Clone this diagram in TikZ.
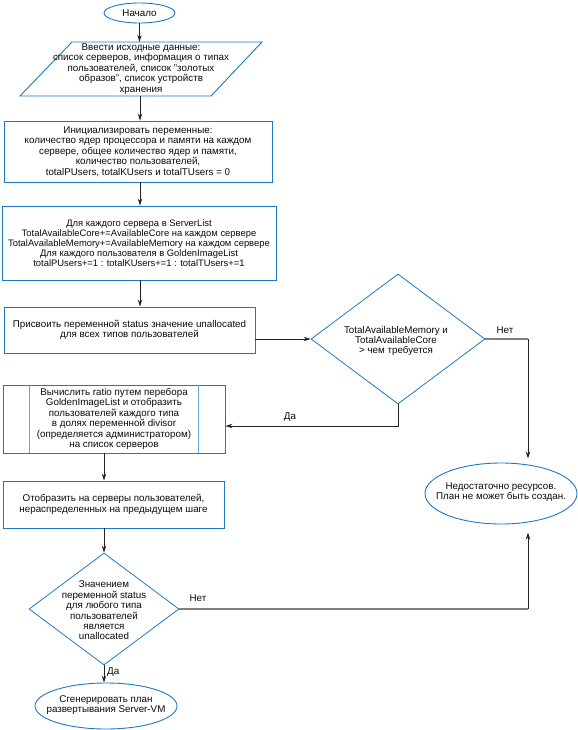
\documentclass[tikz,border=0pt]{standalone}
\usepackage{fontspec}
\setmainfont{Liberation Sans}
\usetikzlibrary{shapes.geometric,arrows.meta,calc}
\definecolor{bord}{RGB}{30,120,195}
\definecolor{bordl}{RGB}{100,165,220}
\definecolor{conn}{RGB}{35,35,35}
\definecolor{graycon}{RGB}{128,128,128}
\definecolor{txt}{RGB}{10,10,10}
\begin{document}
\begin{tikzpicture}[x=1bp,y=-1bp,
 every node/.style={font=\fontsize{9.8bp}{10.4bp}\selectfont, text=txt, align=center, inner sep=0pt},
 proc/.style={draw=bord, line width=0.9bp, rectangle},
 term/.style={draw=bord, line width=0.9bp, ellipse},
 dia/.style={draw=bord, line width=0.8bp, diamond},
 arr/.style={draw=conn, line width=0.9bp, -{Stealth[length=7bp,width=4.5bp]}},
 grayline/.style={draw=graycon, line width=1.5bp},
 lbl/.style={font=\fontsize{9.8bp}{10bp}\selectfont}]
\useasboundingbox (0,0) rectangle (578,730);
\coordinate (ax) at (140,0);
% start
\node[term, minimum width=71bp, minimum height=20bp] (start) at (139.5,13) {Начало};
% input parallelogram
\draw[bord, line width=0.9bp] (72,42) -- (262,42) -- (211,96) -- (20,96) -- cycle;
\node[minimum width=190bp, minimum height=54bp] (inp) at (141,69) {Ввести исходные данные:\\список серверов, информация о типах\\пользователей, список "золотых\\образов", список устройств\\хранения};
% init
\node[proc, minimum width=268bp, minimum height=61bp] (init) at (138,151.5) {Инициализировать переменные:\\количество ядер процессора и памяти на каждом\\сервере, общее количество ядер и памяти,\\количество пользователей,\\totalPUsers, totalKUsers и totalTUsers = 0};
% loop
\node[proc, minimum width=274bp, minimum height=74bp, font=\fontsize{9.4bp}{10bp}\selectfont] (loop) at (139,243) {Для каждого сервера в ServerList\\TotalAvailableCore+=AvailableCore на каждом сервере\\TotalAvailableMemory+=AvailableMemory на каждом сервере\\Для каждого пользователя в GoldenImageList\\totalPUsers+=1 : totalKUsers+=1 : totalTUsers+=1};
% status
\node[proc, minimum width=251bp, minimum height=46bp] (stat) at (129.5,330) {Присвоить переменной status значение unallocated\\для всех типов пользователей};
% diamond 1
\node[dia, minimum width=174bp, minimum height=130bp] (d1) at (398,339) {};
\node (d1t) at (396,341) {TotalAvailableMemory и\\TotalAvailableCore\\> чем требуется};
% predefined
\node[proc, minimum width=222bp, minimum height=68bp] (pre) at (114,419) {Вычислить ratio путем перебора\\GoldenImageList и отобразить\\пользователей каждого типа\\в долях переменной divisor\\(определяется администратором)\\на список серверов};
\draw[bordl, line width=0.9bp] ($(pre.north west)+(27,0)$) -- ($(pre.south west)+(27,0)$);
\draw[bordl, line width=0.9bp] ($(pre.north east)+(-27,0)$) -- ($(pre.south east)+(-27,0)$);
% map
\node[proc, minimum width=221bp, minimum height=47bp] (map) at (113.5,504.5) {Отобразить на серверы пользователей,\\нераспределенных на предыдущем шаге};
% diamond 2
\node[dia, minimum width=150bp, minimum height=112bp] (d2) at (104,609) {};
\node (d2t) at (104,610.5) {Значением\\переменной status\\для любого типа\\пользователей\\является\\unallocated};
% no resources
\node[term, minimum width=152bp, minimum height=61bp] (nores) at (501,493.5) {};
\node (norest) at (501,492) {Недостаточно ресурсов.\\План не может быть создан.};
% final
\node[term, minimum width=142bp, minimum height=46bp] (fin) at (106,706) {};
\node (fint) at (106,705) {Сгенерировать план\\развертывания Server-VM};
\coordinate (nx) at ($(nores.center)+(27,0)$);
% connectors
\draw[arr] (start.south) -- (start.south |- inp.north);
\draw[arr] (ax |- inp.south) -- (ax |- init.north);
\draw[arr] (ax |- init.south) -- (ax |- loop.north);
\draw[arr] (ax |- loop.south) -- (ax |- stat.north);
\draw[arr] (stat.east |- d1.west) -- (d1.west);
\draw[arr] (d1.south) |- ($(pre.east)+(0,7)$);
\node[lbl] (da1) at (290,417) {Да};
\draw[grayline] (d1.east) -- (nx |- d1.east);
\draw[arr] (nx |- d1.east) -- ($(nx)+(0,-35)$);
\node[lbl] (net1) at (505,330) {Нет};
\draw[arr] (d2.north |- pre.south) -- (d2.north |- map.north);
\draw[arr] (d2.north |- map.south) -- (d2.north);
\draw[grayline] (d2.east) -- (nx |- d2.east);
\draw[arr] (nx |- d2.east) -- ($(nx)+(0,39)$);
\node[lbl] (net2) at (198,598) {Нет};
\draw[arr] (d2.south) -- (d2.south |- fin.north);
\node[lbl, anchor=west] (da2) at (107,672) {Да};
\end{tikzpicture}
\end{document}
